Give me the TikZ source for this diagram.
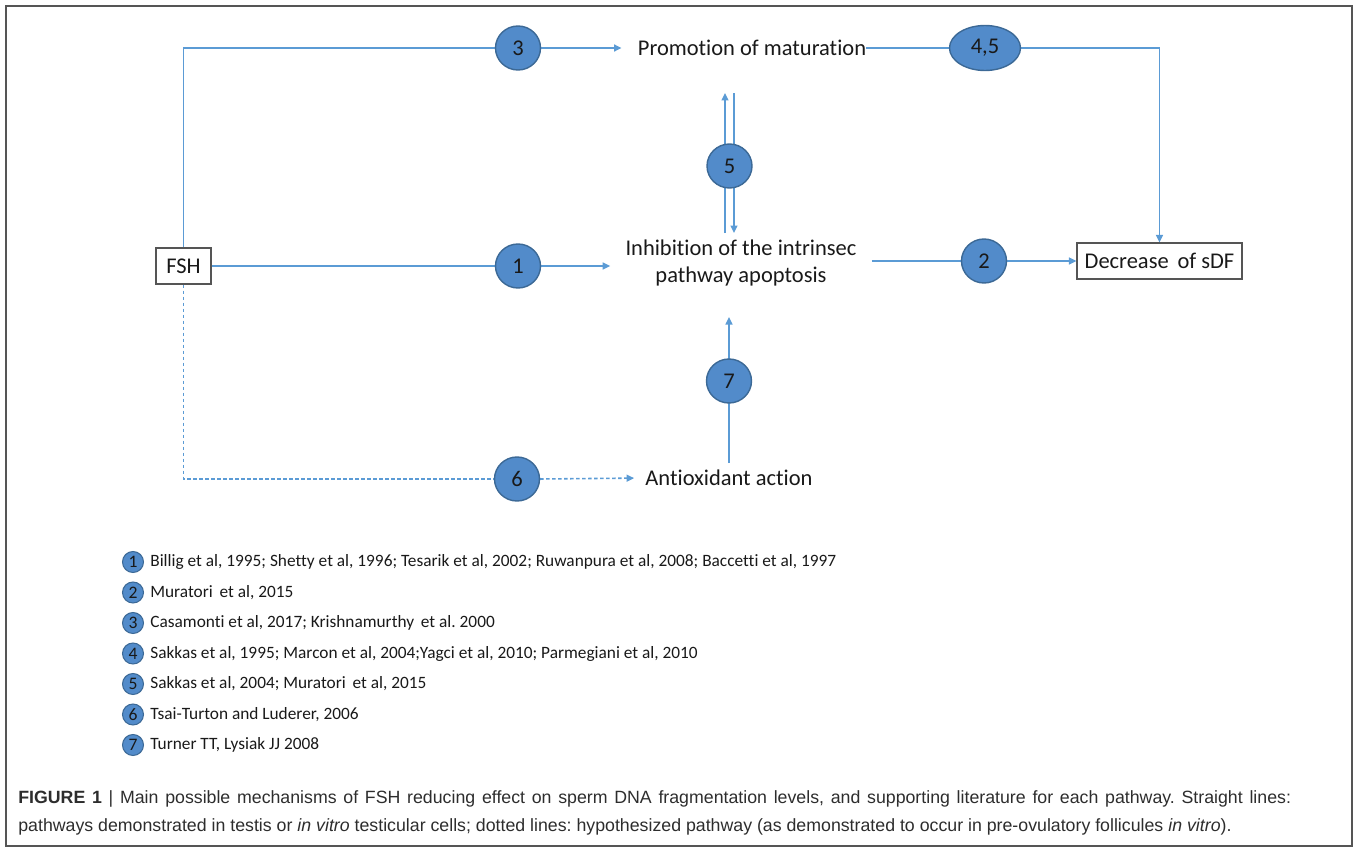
\documentclass[tikz,border=0pt]{standalone}
\usepackage{fontspec}
\setmainfont{Carlito}[Ligatures={NoCommon}]
\newfontfamily\capfont{Liberation Sans}
\usetikzlibrary{arrows.meta,shapes.geometric,calc}
\pgfdeclarelayer{bg}
\pgfsetlayers{bg,main}
\frenchspacing
\definecolor{lineblue}{RGB}{91,155,213}
\definecolor{circfill}{RGB}{82,139,202}
\definecolor{circdraw}{RGB}{60,105,150}
\definecolor{framegray}{RGB}{85,85,85}
\definecolor{txt}{RGB}{25,25,25}
\definecolor{captxt}{RGB}{45,45,45}
\begin{document}
\begin{tikzpicture}[x=0.02cm,y=-0.02cm,
  lbl/.style={inner sep=0pt, font=\fontsize{12.8}{15.6}\selectfont, text=txt},
  bub/.style={ellipse, draw=circdraw, fill=circfill, line width=0.8pt, inner sep=0pt,
    minimum width=0.9cm, minimum height=0.88cm, font=\fontsize{12.8}{15.6}\selectfont, text=txt},
  boxnode/.style={draw=framegray, line width=0.7pt, inner sep=0pt, text=txt,
    font=\fontsize{12.8}{15.6}\selectfont, minimum height=0.72cm},
  conn/.style={draw=lineblue, line width=0.9pt},
  arr/.style={conn, -{Triangle[length=0.15cm,width=0.14cm]}},
  dsh/.style={dash pattern=on 0.07cm off 0.05cm},
  legbub/.style={circle, draw=circdraw, fill=circfill, line width=0.6pt, inner sep=0pt,
    minimum size=0.42cm, font=\fontsize{10}{12}\selectfont, text=txt},
  legtxt/.style={anchor=west, inner sep=0pt, font=\fontsize{9.85}{11.5}\selectfont, text=txt},
  captext/.style={anchor=base west, inner sep=0pt, font=\capfont\fontsize{10.1}{12}\selectfont, text=captxt}
]
\useasboundingbox (0,0) rectangle (1357,852);
\draw[framegray, line width=0.6pt] (6,6) rectangle (1352,846);

% main nodes
\node[boxnode, minimum width=1.1cm] (fsh) at (183.5,266) {FSH};
\node[boxnode, minimum width=3.3cm] (dsdf) at (1159.5,261) {Decrease\, of sDF};
\node[lbl] (prom) at (752,48) {Promotion of maturation};
\node[lbl, align=center] (inh) at (741,263) {Inhibition of the intrinsec\\pathway apoptosis};
\node[lbl] (ant) at (729,478) {Antioxidant action};

\node[bub] (c3) at (518,48) {3};
\node[bub, minimum width=1.42cm, minimum height=0.9cm] (c45) at (985,48) {4,5};
\node[bub] (c1) at (518,266) {1};
\node[bub] (c2) at (984,261) {2};
\node[bub] (c5) at (729.5,166) {5};
\node[bub] (c7) at (729,381) {7};
\node[bub] (c6) at (517,479) {6};

\coordinate (u1) at (725,233);
\coordinate (u2) at (725,93);
\coordinate (d1) at (734,93);
\coordinate (d2) at (734,233);
\coordinate (s7) at (729,463);
\coordinate (t7) at (729,317);

\begin{pgfonlayer}{bg}
  \draw[conn] (fsh.north) |- (c3.west);
  \draw[arr, shorten >=0.32cm] (c3.east) -- (prom.west);
  \draw[conn] (prom.east) -- (c45.west);
  \draw[arr] (c45.east) -| (dsdf.north);
  \draw[conn] (fsh.east) -- (c1.west);
  \draw[arr, shorten >=0.3cm] (c1.east) -- (c1.east -| inh.west);
  \draw[conn, shorten <=0.3cm] (inh.east |- c2) -- (c2.west);
  \draw[arr] (c2.east) -- (c2.east -| dsdf.west);
  \draw[arr] (u1) -- (u2);
  \draw[arr] (d1) -- (d2);
  \draw[arr] (s7) -- (t7);
  \draw[conn, dsh] (fsh.south) |- (c6.west);
  \draw[arr, dsh, shorten >=0.22cm] (c6.east) -- (ant.west);
\end{pgfonlayer}

% legend
\foreach \n/\yy/\t in {1/562/{Billig et al, 1995; Shetty et al, 1996; Tesarik et al, 2002; Ruwanpura et al, 2008; Baccetti et al, 1997},
  2/592.5/{Muratori\, et al, 2015},
  3/623/{Casamonti et al, 2017; Krishnamurthy\, et al. 2000},
  4/653.5/{Sakkas et al, 1995; Marcon et al, 2004;Yagci et al, 2010; Parmegiani et al, 2010},
  5/684/{Sakkas et al, 2004; Muratori\, et al, 2015},
  6/714.5/{Tsai-Turton and Luderer, 2006},
  7/745/{Turner TT, Lysiak JJ 2008}}{
  \node[legbub] (lb\n) at (133,\yy) {\n};
  \node[legtxt] (lt\n) at (150,\yy) {\t};
}

% caption
\node[captext] (cap1) at (18,803) {\makebox[25.46cm][s]{\textbf{FIGURE 1} | Main possible mechanisms of FSH reducing effect on sperm DNA fragmentation levels, and supporting literature for each pathway. Straight lines:}};
\node[captext] (cap2) at (18,831) {pathways demonstrated in testis or \textit{in vitro} testicular cells; dotted lines: hypothesized pathway (as demonstrated to occur in pre-ovulatory follicules \textit{in vitro}).};
\end{tikzpicture}
\end{document}
